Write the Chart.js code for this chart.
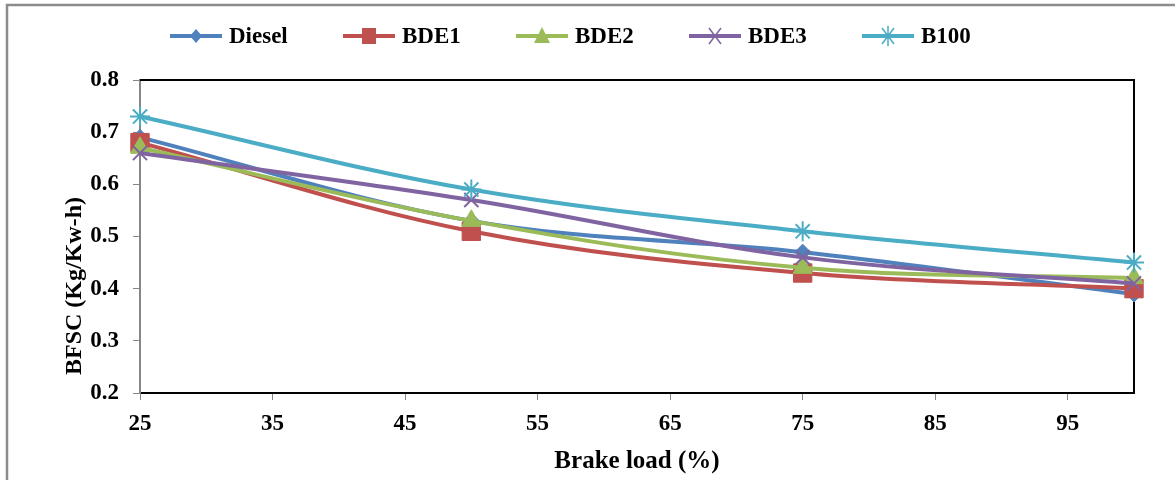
<!DOCTYPE html>
<html>
<head>
<meta charset="utf-8">
<title>BFSC vs Brake load</title>
<script src="https://cdn.jsdelivr.net/npm/chart.js@4/dist/chart.umd.min.js"></script>
<style>
  html, body { margin: 0; padding: 0; background: #fff; }
  #wrap { width: 1175px; height: 480px; position: relative; }
</style>
</head>
<body>
<div id="wrap"><canvas id="bfscChart" width="1175" height="480"></canvas></div>
<script>
// --- Data ---
const loads = [25, 50, 75, 100];
const diesel = [0.69, 0.53, 0.47, 0.39];
const bde1 = [0.68, 0.51, 0.43, 0.40];
const bde2 = [0.67, 0.53, 0.44, 0.42];
const bde3 = [0.66, 0.57, 0.46, 0.41];
const b100 = [0.73, 0.59, 0.51, 0.45];

const seriesNames = ['Diesel', 'BDE1', 'BDE2', 'BDE3', 'B100'];
const xTickLabels = [25, 35, 45, 55, 65, 75, 85, 95];
const yTickLabels = [0.2, 0.3, 0.4, 0.5, 0.6, 0.7, 0.8];

const FONT = "'Liberation Serif', 'Times New Roman', serif";

// marker look for each series
const styles = [
  { color: '#4F81BD', point: 'rectRot', radius: 8, border: 1 },
  { color: '#C0504D', point: 'rect', radius: 13, border: 1 },
  { color: '#9BBB59', point: 'triangle', radius: 11, border: 1 },
  { color: '#8064A2', point: 'crossRot', radius: 10, border: 2 },
  { color: '#4BACC6', point: 'star', radius: 10, border: 2 }
];

const allSeries = [diesel, bde1, bde2, bde3, b100];

const datasets = allSeries.map((vals, i) => ({
  label: seriesNames[i],
  data: vals.map((v, j) => ({ x: loads[j], y: v })),
  borderColor: styles[i].color,
  backgroundColor: styles[i].color,
  borderWidth: 4,
  tension: 0.35,
  clip: false,
  pointStyle: styles[i].point,
  pointRadius: styles[i].radius,
  pointBorderWidth: styles[i].border,
  pointBackgroundColor: styles[i].color,
  pointBorderColor: styles[i].color,
  order: allSeries.length - 1 - i   // later series drawn on top, like Excel
}));

// small marker for the legend row
function drawLegendMarker(g, st, x, y) {
  g.fillStyle = st.color;
  g.strokeStyle = st.color;
  g.lineWidth = 1.5;
  g.beginPath();
  if (st.point === 'rectRot') {
    g.moveTo(x, y - 7); g.lineTo(x + 6, y); g.lineTo(x, y + 7); g.lineTo(x - 6, y);
    g.closePath(); g.fill();
  } else if (st.point === 'rect') {
    g.fillRect(x - 7, y - 8, 14, 16);
  } else if (st.point === 'triangle') {
    g.moveTo(x, y - 9); g.lineTo(x + 8, y + 7); g.lineTo(x - 8, y + 7);
    g.closePath(); g.fill();
  } else if (st.point === 'crossRot') {
    g.moveTo(x - 6, y - 8); g.lineTo(x + 6, y + 8);
    g.moveTo(x + 6, y - 8); g.lineTo(x - 6, y + 8);
    g.stroke();
  } else {
    g.moveTo(x - 6, y - 8); g.lineTo(x + 6, y + 8);
    g.moveTo(x + 6, y - 8); g.lineTo(x - 6, y + 8);
    g.moveTo(x, y - 10); g.lineTo(x, y + 10);
    g.stroke();
  }
}

// --- legend row above the plot (Excel style: line + marker + name) ---
const legendRow = {
  id: 'legendRow',
  afterDraw(chart) {
    const ctx = chart.ctx;
    const startX = 170, step = 173, lineLen = 52, y = 36;
    ctx.save();
    ctx.font = 'bold 23px ' + FONT;
    ctx.textBaseline = 'middle';
    ctx.textAlign = 'left';
    seriesNames.forEach((name, i) => {
      const x0 = startX + i * step;
      ctx.strokeStyle = styles[i].color;
      ctx.lineWidth = 4;
      ctx.beginPath();
      ctx.moveTo(x0, y);
      ctx.lineTo(x0 + lineLen, y);
      ctx.stroke();
      drawLegendMarker(ctx, styles[i], x0 + lineLen / 2, y);
      ctx.fillStyle = '#000';
      ctx.fillText(name, x0 + lineLen + 7, y + 1);
    });
    ctx.restore();
  }
};

// --- outer frame and plot border ---
const framePlugin = {
  id: 'frame',
  beforeDraw(chart) {
    const ctx = chart.ctx;
    ctx.save();
    ctx.fillStyle = '#fff';
    ctx.fillRect(0, 0, chart.width, chart.height);
    ctx.strokeStyle = '#8c8c8c';
    ctx.lineWidth = 2.5;
    ctx.beginPath();
    ctx.moveTo(7, chart.height);
    ctx.lineTo(7, 5);
    ctx.lineTo(chart.width, 5);
    ctx.stroke();
    ctx.restore();
  },
  beforeDatasetsDraw(chart) {
    const a = chart.chartArea;
    const ctx = chart.ctx;
    ctx.save();
    ctx.strokeStyle = '#000';
    ctx.lineWidth = 2;
    ctx.beginPath();
    ctx.moveTo(a.left, a.top);
    ctx.lineTo(a.right, a.top);
    ctx.lineTo(a.right, a.bottom);
    ctx.stroke();
    ctx.restore();
  }
};

new Chart(document.getElementById('bfscChart'), {
  type: 'line',
  data: { datasets },
  options: {
    responsive: false,
    animation: false,
    layout: { padding: { left: 10, right: 41, top: 80, bottom: 0 } },
    plugins: {
      tooltip: { enabled: false },
      legend: { display: false }
    },
    scales: {
      x: {
        type: 'linear',
        min: 25,
        max: 100,
        afterBuildTicks: (axis) => { axis.ticks = xTickLabels.map(v => ({ value: v })); },
        afterFit: (axis) => { axis.height = 87; },
        grid: { drawOnChartArea: false, drawTicks: true, tickLength: 7, color: '#868686', tickWidth: 1 },
        border: { display: true, color: '#000', width: 2 },
        ticks: {
          font: { family: FONT, size: 23, weight: 'bold' },
          color: '#000',
          padding: 10,
          maxRotation: 0,
          callback: (v) => String(v)
        },
        title: {
          display: true,
          text: 'Brake load (%)',
          font: { family: FONT, size: 25, weight: 'bold' },
          color: '#000',
          padding: { top: 0, bottom: 3 }
        }
      },
      y: {
        min: 0.2,
        max: 0.8,
        afterBuildTicks: (axis) => { axis.ticks = yTickLabels.map(v => ({ value: v })); },
        afterFit: (axis) => { axis.width = 130; },
        grid: { drawOnChartArea: false, drawTicks: true, tickLength: 7, color: '#868686', tickWidth: 1 },
        border: { display: true, color: '#868686', width: 2 },
        ticks: {
          font: { family: FONT, size: 23, weight: 'bold' },
          color: '#000',
          padding: 14,
          callback: (v) => Number(v).toFixed(1)
        },
        title: {
          display: true,
          text: '   BFSC (Kg/Kw-h)',
          align: 'start',
          font: { family: FONT, size: 24, weight: 'bold' },
          color: '#000',
          padding: { top: 50, bottom: 0 }
        }
      }
    }
  },
  plugins: [framePlugin, legendRow]
});
</script>
</body>
</html>
